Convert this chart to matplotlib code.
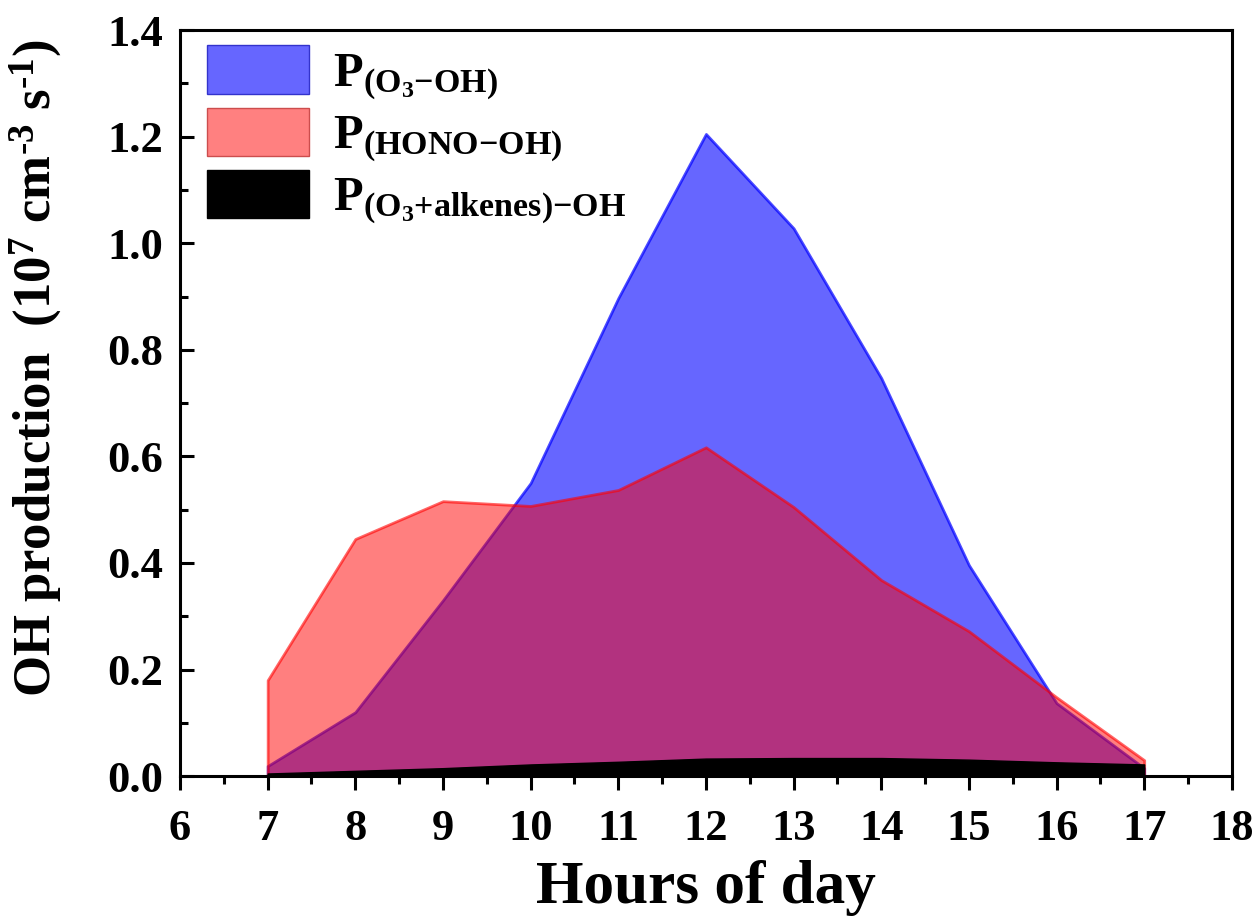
import matplotlib
matplotlib.use("Agg")
import matplotlib.pyplot as plt
from matplotlib.patches import Patch
from matplotlib.ticker import MultipleLocator

plt.rcParams['font.family'] = ['Liberation Serif', 'DejaVu Serif']
plt.rcParams['font.weight'] = 'bold'
plt.rcParams['mathtext.fontset'] = 'custom'
plt.rcParams['mathtext.rm'] = 'Liberation Serif:bold'
plt.rcParams['mathtext.bf'] = 'Liberation Serif:bold'
plt.rcParams['mathtext.it'] = 'Liberation Serif:bold'
plt.rcParams['mathtext.default'] = 'bf'

hours = [7, 8, 9, 10, 11, 12, 13, 14, 15, 16, 17]
p_o3 = [0.019, 0.12, 0.33, 0.55, 0.897, 1.205, 1.028, 0.747, 0.396, 0.137, 0.015]
p_hono = [0.18, 0.445, 0.516, 0.507, 0.537, 0.617, 0.505, 0.368, 0.272, 0.148, 0.03]
p_alk = [0.005, 0.01, 0.015, 0.022, 0.027, 0.033, 0.034, 0.034, 0.031, 0.026, 0.022]

labels = [r'$\mathbf{P}_{\mathbf{(O_3{-}OH)}}$',
          r'$\mathbf{P}_{\mathbf{(HONO{-}OH)}}$',
          r'$\mathbf{P}_{\mathbf{(O_3{+}alkenes){-}OH}}$']

fig = plt.figure(figsize=(12.57, 9.24), dpi=100)
ax = fig.add_axes([0.1432, 0.160, 0.8368, 0.8075])

ax.fill_between(hours, 0, p_o3, facecolor=(0, 0, 1, 0.6), edgecolor=(0, 0, 1, 0.7), linewidth=2)
ax.fill_between(hours, 0, p_hono, facecolor=(1, 0, 0, 0.5), edgecolor=(1, 0, 0, 0.6), linewidth=2)
ax.fill_between(hours, 0, p_alk, facecolor='black', edgecolor='black', linewidth=1)

ax.set_xlim(6, 18)
ax.set_ylim(0, 1.4)
ax.xaxis.set_major_locator(MultipleLocator(1))
ax.xaxis.set_minor_locator(MultipleLocator(0.5))
ax.yaxis.set_major_locator(MultipleLocator(0.2))
ax.yaxis.set_minor_locator(MultipleLocator(0.1))
ax.set_yticklabels([f'{v:.1f}' for v in ax.get_yticks()])

for s in ax.spines.values():
    s.set_linewidth(2.2)

ax.tick_params(axis='x', which='major', direction='out', length=10, width=2.2, labelsize=32, pad=14)
ax.tick_params(axis='x', which='minor', direction='out', length=6, width=2.2)
ax.tick_params(axis='y', which='major', direction='in', length=10, width=2.2, labelsize=32, pad=12)
ax.tick_params(axis='y', which='minor', direction='in', length=6, width=2.2)
for lab in ax.get_xticklabels() + ax.get_yticklabels():
    lab.set_fontweight('bold')

ax.set_xlabel('Hours of day', fontsize=44, fontweight='bold')
ax.xaxis.set_label_coords(0.5, -0.112)
ax.set_ylabel('OH production  (10$^{7}$ cm$^{\u20103}$ s$^{\u20101}$)', fontsize=38, fontweight='bold')
ax.yaxis.set_label_coords(-0.110, 0.546)

handles = [Patch(facecolor=(0.4, 0.4, 1.0), edgecolor=(0.2, 0.2, 0.8), linewidth=1),
           Patch(facecolor=(1.0, 0.5, 0.5), edgecolor=(0.8, 0.3, 0.3), linewidth=1),
           Patch(facecolor='black', edgecolor='black', linewidth=1)]
ax.legend(handles, labels, loc='upper left', frameon=False, fontsize=35,
          handlelength=2.1, handleheight=1.15, handletextpad=0.5,
          labelspacing=0.12, borderpad=0.1, borderaxespad=0.0,
          bbox_to_anchor=(0.021, 0.986))

fig.savefig('out.png', dpi=100)
